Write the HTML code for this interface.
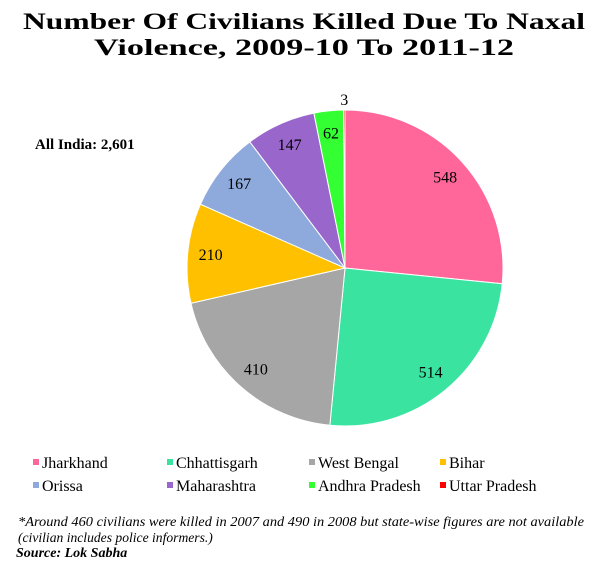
<!DOCTYPE html>
<html><head><meta charset="utf-8"><style>
body{margin:0;background:#fff;width:611px;height:567px;overflow:hidden;font-family:"Liberation Serif",serif;}
svg{position:absolute;left:0;top:0}
</style></head><body>
<svg width="611" height="567">
<text x="304" y="29" text-anchor="middle" font-size="23" font-weight="bold" textLength="562" lengthAdjust="spacingAndGlyphs">Number Of Civilians Killed Due To Naxal</text>
<text x="304" y="55" text-anchor="middle" font-size="23" font-weight="bold" textLength="420" lengthAdjust="spacingAndGlyphs">Violence, 2009-10 To 2011-12</text>
<text x="35" y="149" font-size="15" font-weight="bold">All India: 2,601</text>
<g id="pie"></g>
<g id="legend"></g>
<text x="18" y="526" font-size="13.6" font-style="italic" textLength="566" lengthAdjust="spacingAndGlyphs">*Around 460 civilians were killed in 2007 and 490 in 2008 but state-wise figures are not available</text>
<text x="18" y="542" font-size="13.6" font-style="italic">(civilian includes police informers.)</text>
<text x="16" y="557" font-size="14" font-style="italic" font-weight="bold">Source: Lok Sabha</text>
</svg>
<script>
const categories=["Jharkhand","Chhattisgarh","West Bengal","Bihar","Orissa","Maharashtra","Andhra Pradesh","Uttar Pradesh"];
const values=[548,514,410,210,167,147,62,3];
const colors=["#FF6699","#3BE3A0","#A6A6A6","#FFC000","#8EA9DB","#9966CC","#33FF33","#FF0000"];
const NS="http://www.w3.org/2000/svg";
const cx=345,cy=268,R=158;
const total=values.reduce((a,b)=>a+b,0);
const pie=document.getElementById('pie');
function pt(a,r){return [cx+r*Math.sin(a),cy-r*Math.cos(a)];}
let acc=0;
values.forEach((v,i)=>{
  const a0=acc/total*2*Math.PI; acc+=v; const a1=acc/total*2*Math.PI;
  const p0=pt(a0,R),p1=pt(a1,R);
  const path=document.createElementNS(NS,'path');
  path.setAttribute('d',`M${cx},${cy}L${p0[0]},${p0[1]}A${R},${R} 0 ${a1-a0>Math.PI?1:0} 1 ${p1[0]},${p1[1]}Z`);
  path.setAttribute('fill',colors[i]);path.setAttribute('stroke','#fff');path.setAttribute('stroke-width','1');
  
  
  pie.appendChild(path);
  const am=(a0+a1)/2, lr=(v/total<0.01)?168:135;
  const lp=pt(am,lr);
  const t=document.createElementNS(NS,'text');
  t.setAttribute('x',lp[0]);t.setAttribute('y',lp[1]+5);t.setAttribute('text-anchor','middle');t.setAttribute('font-size','16');
  t.textContent=v;
  
  
  pie.appendChild(t);
});
const lg=document.getElementById('legend');
categories.forEach((c,i)=>{
  const col=i%4,row=Math.floor(i/4);
  const xL=[33,167,309,440][col];
  const y=463+row*23;
  const g=document.createElementNS(NS,'g');
  
  
  const r=document.createElementNS(NS,'rect');
  r.setAttribute('x',xL);r.setAttribute('y',y-4);r.setAttribute('width',6);r.setAttribute('height',6);r.setAttribute('fill',colors[i]);
  g.appendChild(r);
  const t=document.createElementNS(NS,'text');
  t.setAttribute('x',xL+9);t.setAttribute('y',y+5);t.setAttribute('font-size','16');t.textContent=c;
  g.appendChild(t);
  lg.appendChild(g);
});
</script>
</body></html>
